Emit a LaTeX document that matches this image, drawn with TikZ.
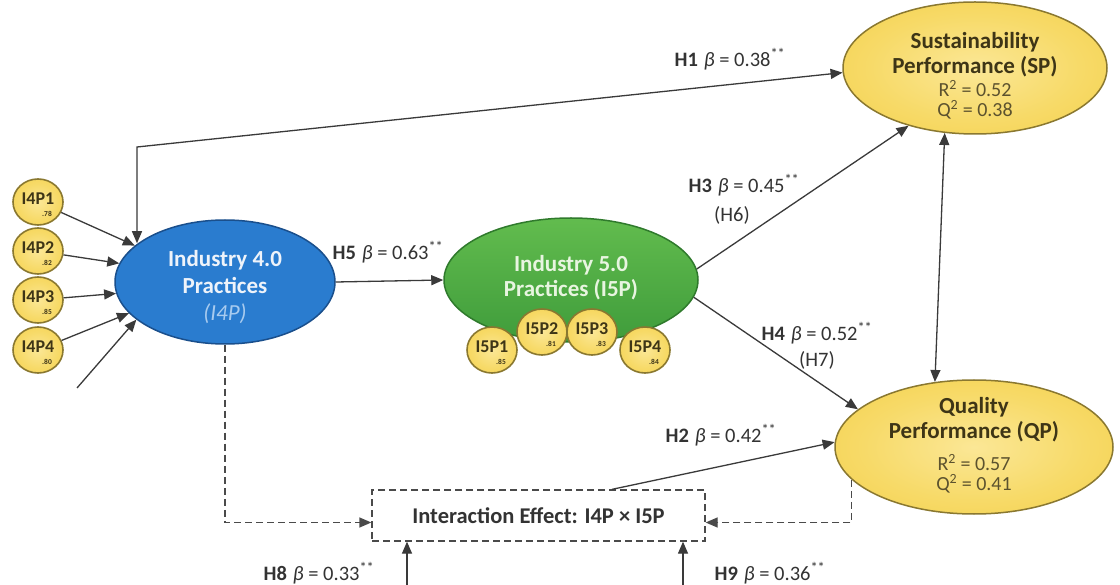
\documentclass[tikz,border=0pt]{standalone}
\usepackage{fontspec}
\setmainfont{Carlito}
\usetikzlibrary{shapes.geometric,arrows.meta}
\definecolor{lc}{HTML}{3A3A3A}
\definecolor{dc}{HTML}{4A4A4A}
\definecolor{bdraw}{HTML}{1A4F8C}
\definecolor{bc}{HTML}{2A7CCF}
\definecolor{bo}{HTML}{1C66B8}
\definecolor{gdraw}{HTML}{2F7A2C}
\definecolor{gt}{HTML}{62BC4E}
\definecolor{gb}{HTML}{3F9C3B}
\definecolor{yfill}{HTML}{F4CF48}
\definecolor{ymid}{HTML}{F7DA68}
\definecolor{ylight}{HTML}{FBE796}
\definecolor{ydraw}{HTML}{8A7830}
\definecolor{ytext}{HTML}{3E3516}
\definecolor{rtext}{HTML}{5C522E}
\definecolor{ltext}{HTML}{333333}
\definecolor{wtext}{HTML}{EEF3FA}
\definecolor{ltblue}{HTML}{A8CBEF}
\definecolor{gtext}{HTML}{E8F5E0}
\pgfdeclareradialshading{yshade}{\pgfpoint{0bp}{0bp}}{color(0bp)=(ylight); color(20bp)=(ymid); color(38bp)=(yfill); color(50bp)=(yfill)}
\pgfdeclareradialshading{bshade}{\pgfpoint{0bp}{0bp}}{color(0bp)=(bc); color(30bp)=(bc); color(50bp)=(bo)}
\begin{document}
\begin{tikzpicture}[x=1pt,y=-1pt,
  ln/.style={draw=lc, line width=1.3pt},
  arr/.style={ln, -{Triangle[length=12pt,width=10pt]}},
  darr/.style={ln, {Triangle[length=12pt,width=10pt]}-{Triangle[length=12pt,width=10pt]}},
  dsh/.style={draw=dc, line width=1.3pt, dash pattern=on 7pt off 4pt, -{Triangle[length=12pt,width=10pt]}},
  lat/.style={ellipse, line width=1.5pt, inner sep=0pt},
  ind/.style={ellipse, draw=ydraw, line width=1.6pt, shading=yshade, minimum width=50pt, minimum height=46pt, inner sep=0pt},
  indt/.style={font=\fontsize{18}{18}\selectfont\bfseries, text=ytext, inner sep=0pt},
  indv/.style={font=\fontsize{7.5}{7.5}\selectfont\bfseries, text=ytext, inner sep=0pt},
  lbl/.style={font=\fontsize{20.5}{22}\selectfont, text=ltext, inner sep=0pt},
  ttl/.style={font=\fontsize{23}{25}\selectfont\bfseries, align=center, inner sep=0pt},
  rq/.style={font=\fontsize{20}{20}\selectfont, align=center, text=rtext, inner sep=0pt}
]
\fill[white] (0,0) rectangle (1120,585);
\useasboundingbox (0,0) rectangle (1120,585);

% latent variables
\node[lat, draw=bdraw, shading=bshade, minimum width=220pt, minimum height=124pt] (i4p) at (225,282) {};
\node[lat, draw=gdraw, top color=gt, bottom color=gb, minimum width=254pt, minimum height=124pt] (i5p) at (571,280) {};
\node[lat, draw=ydraw, shading=yshade, minimum width=264pt, minimum height=132pt] (sp) at (975,68) {};
\node[lat, draw=ydraw, shading=yshade, minimum width=278pt, minimum height=134pt] (qp) at (974,447) {};
\node[draw=dc, line width=1.3pt, dash pattern=on 7pt off 4pt, minimum width=333pt, minimum height=51pt, inner sep=0pt,
      font=\fontsize{22.5}{22.5}\selectfont\bfseries, text=ltext] (ie) at (538.5,515.5) {Interaction Effect: I4P × I5P};

% texts inside
\node[ttl, font=\fontsize{23}{27}\selectfont\bfseries, text=wtext] (t4) at (225,287) {Industry 4.0\\Practices\\{\mdseries\itshape\color{ltblue}(I4P)}};
\node[ttl, text=gtext] (t5) at (571,278) {Industry 5.0\\Practices (I5P)};
\node[ttl, text=ytext] (tsp) at (975,55) {Sustainability\\Performance (SP)};
\node[rq] (rsp) at (975,100) {R\textsuperscript{2} = 0.52\\Q\textsuperscript{2} = 0.38};
\node[ttl, text=ytext] (tqp) at (974,420) {Quality\\Performance (QP)};
\node[rq] (rqp) at (974,474) {R\textsuperscript{2} = 0.57\\Q\textsuperscript{2} = 0.41};

% indicators of I4P
\foreach \n/\y/\v/\a in {1/202/.78/158, 2/251/.82/170, 3/300/.85/186, 4/350/.80/198}{
  \node[ind] (i4p\n) at (38,\y) {};
  \node[indt] at ([yshift=3pt]i4p\n.center) {I4P\n};
  \node[indv] at ([xshift=9pt,yshift=-12pt]i4p\n.center) {\v};
  \draw[arr] (i4p\n) -- (i4p.\a);
}
\coordinate (err) at (77,388);
\draw[arr] (err) -- (i4p.203);

% indicators of I5P
\foreach \n/\x/\y/\v in {1/492/350/.85, 2/542/332/.81, 3/592/332/.83, 4/645/350/.84}{
  \node[ind] (i5p\n) at (\x,\y) {};
  \node[indt] at ([yshift=3pt]i5p\n.center) {I5P\n};
  \node[indv] at ([xshift=9pt,yshift=-12pt]i5p\n.center) {\v};
}

% structural paths
\coordinate (h1c) at (137,147);
\draw[darr] (sp.182) -- (h1c) -- (h1c |- i4p.156);
\draw[arr] (i4p.east) -- (i5p.west);
\draw[arr] (i5p.5) -- (sp.221);
\draw[arr] (i5p.-8) -- (qp.162);
\draw[darr] (sp.245) -- (qp.121);
\draw[arr] ([xshift=73.5pt]ie.north) -- (qp.178);

% moderation (dashed)
\draw[dsh] (i4p.south) |- ([yshift=-7pt]ie.west);
\draw[dsh] (qp.195) |- ([yshift=-7pt]ie.east);
\coordinate (h8s) at (407,585);
\coordinate (h9s) at (683,585);
\draw[arr] (h8s) -- (h8s |- ie.south);
\draw[arr] (h9s) -- (h9s |- ie.south);

% labels
\node[lbl] (lh1) at (730,59) {\textbf{H1}\hspace{6pt}\textit{β} = 0.38\textsuperscript{**}};
\node[lbl] (lh5) at (388,252) {\textbf{H5}\hspace{6pt}\textit{β} = 0.63\textsuperscript{**}};
\node[lbl] (lh3) at (744,185) {\textbf{H3}\hspace{6pt}\textit{β} = 0.45\textsuperscript{**}};
\node[lbl] (lh6) at (732,215) {(H6)};
\node[lbl] (lh4) at (817,333) {\textbf{H4}\hspace{6pt}\textit{β} = 0.52\textsuperscript{**}};
\node[lbl] (lh7) at (817,360) {(H7)};
\node[lbl] (lh2) at (721,435) {\textbf{H2}\hspace{6pt}\textit{β} = 0.42\textsuperscript{**}};
\node[lbl] (lh8) at (319,573) {\textbf{H8}\hspace{6pt}\textit{β} = 0.33\textsuperscript{**}};
\node[lbl] (lh9) at (770,573) {\textbf{H9}\hspace{6pt}\textit{β} = 0.36\textsuperscript{**}};
\end{tikzpicture}
\end{document}
